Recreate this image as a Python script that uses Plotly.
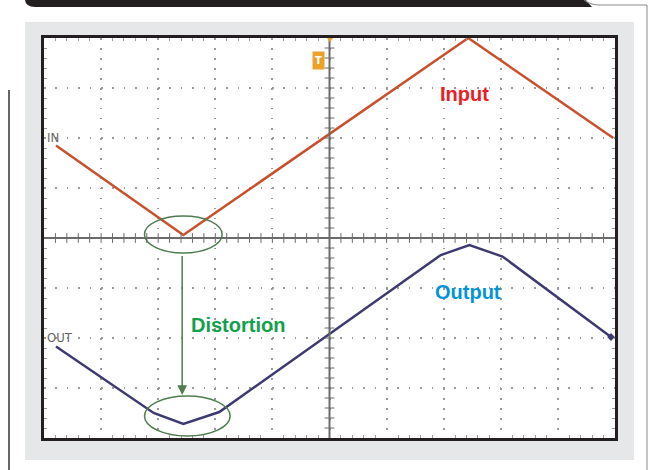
import plotly.graph_objects as go

# oscilloscope trace vertices, in graticule divisions (10 x 8, centre = 0)
in_x = [0.21, 2.44, 7.43, 9.97]
in_y = [1.85, 0.06, 4.00, 2.00]

out_x = [0.21, 1.92, 2.44, 3.07, 6.95, 7.45, 8.03, 9.93]
out_y = [-2.17, -3.50, -3.72, -3.48, -0.34, -0.14, -0.37, -1.98]

labels = ["Input", "Output", "Distortion"]
label_colors = ["#ed1c24", "#0095da", "#12a04c"]

W, H = 650, 470
L, R, T, B = 44, 35, 38, 32
PW, PH = W - L - R, H - T - B


def px_x(px):
    return (px - L) / PW


def px_y(py):
    return (H - B - py) / PH


GRID = "#9a9a9a"
AXIS = "#6b6b6b"
SMALL = "DejaVu Sans Condensed, DejaVu Sans, sans-serif"

fig = go.Figure()

fig.add_trace(go.Scatter(x=in_x, y=in_y, mode="lines",
                         line=dict(color="#c9502c", width=2.5),
                         showlegend=False, hoverinfo="skip"))
fig.add_trace(go.Scatter(x=out_x, y=out_y, mode="lines",
                         line=dict(color="#3d3a72", width=2.5),
                         showlegend=False, hoverinfo="skip"))
fig.add_trace(go.Scatter(x=[out_x[-1]], y=[out_y[-1]], mode="markers",
                         marker=dict(symbol="diamond", size=6, color="#3d3a72"),
                         showlegend=False, hoverinfo="skip"))

# centre graticule tick marks
hticks = [i * 0.2 for i in range(1, 50)]
vticks = [-4 + i * 0.2 for i in range(1, 40)]
fig.add_trace(go.Scatter(x=hticks, y=[0] * len(hticks), mode="markers",
                         marker=dict(symbol="line-ns", size=7,
                                     line=dict(color=AXIS, width=1)),
                         showlegend=False, hoverinfo="skip"))
fig.add_trace(go.Scatter(x=[5] * len(vticks), y=vticks, mode="markers",
                         marker=dict(symbol="line-ew", size=7,
                                     line=dict(color=AXIS, width=1)),
                         showlegend=False, hoverinfo="skip"))

shapes = [
    # grey panel and white screen
    dict(type="rect", xref="paper", yref="paper", layer="below",
         x0=px_x(25), x1=px_x(634), y0=px_y(460), y1=px_y(22),
         fillcolor="#e6e7e8", line=dict(width=0)),
    dict(type="rect", xref="paper", yref="paper", layer="below",
         x0=0, x1=1, y0=0, y1=1, fillcolor="white", line=dict(width=0)),
    # top dark bar with rounded corner
    dict(type="path", xref="paper", yref="paper",
         path=(f"M{px_x(25)},{px_y(-2)} L{px_x(25)},{px_y(-1)} "
               f"Q{px_x(25)},{px_y(7)} {px_x(35)},{px_y(7)} "
               f"L{px_x(592)},{px_y(7)} L{px_x(584)},{px_y(-2)} Z"),
         fillcolor="#231f20", line=dict(width=0)),
    dict(type="path", xref="paper", yref="paper",
         path=(f"M{px_x(584)},{px_y(0)} Q{px_x(590)},{px_y(5)} {px_x(600)},{px_y(5)} "
               f"L{px_x(647)},{px_y(5)} L{px_x(647)},{px_y(472)}"),
         line=dict(color="#8a8a8a", width=1)),
    dict(type="line", xref="paper", yref="paper",
         x0=px_x(9), x1=px_x(9), y0=px_y(90), y1=px_y(472),
         line=dict(color="#333333", width=1.5)),
    # centre axes
    dict(type="line", x0=0, x1=10, y0=0, y1=0, line=dict(color=AXIS, width=2)),
    dict(type="line", x0=5, x1=5, y0=-4, y1=4, line=dict(color=AXIS, width=2)),
    # distortion rings
    dict(type="circle", x0=1.76, x1=3.12, y0=-0.30, y1=0.44,
         line=dict(color="#4f7d4f", width=1.5)),
    dict(type="circle", x0=1.76, x1=3.26, y0=-3.96, y1=-3.16,
         line=dict(color="#4f7d4f", width=1.5)),
    # trigger pointer at top of centre axis
    dict(type="path", xref="paper", yref="paper",
         path=(f"M{px_x(327)},{px_y(38)} L{px_x(333)},{px_y(38)} "
               f"L{px_x(330)},{px_y(42)} Z"),
         fillcolor="#eaa22a", line=dict(width=0)),
]

annotations = [
    dict(x=2.42, y=-3.14, ax=2.42, ay=-0.33, xref="x", yref="y",
         axref="x", ayref="y", text="", showarrow=True,
         arrowhead=2, arrowsize=1.3, arrowwidth=1.5, arrowcolor="#4f7d4f"),
    dict(x=7.37, y=2.89, text=labels[0]),
    dict(x=7.43, y=-1.07, text=labels[1]),
    dict(x=3.39, y=-1.73, text=labels[2]),
    dict(x=0, y=2.02, text="IN", xanchor="left", xshift=1,
         font=dict(family=SMALL, size=13, color="#666666")),
    dict(x=0, y=-1.98, text="OUT", xanchor="left", xshift=1,
         font=dict(family=SMALL, size=13, color="#666666")),
    dict(x=px_x(318.5), y=px_y(51), xref="paper", yref="paper", text="<b>T</b>",
         bgcolor="#eaa22a", borderpad=2,
         font=dict(family=SMALL, size=11, color="white")),
]
for a, c in zip(annotations[1:4], label_colors):
    a["showarrow"] = False
    a["font"] = dict(family="Liberation Sans", size=20, color=c)
    a["text"] = f"<b>{a['text']}</b>"
for a in annotations[4:]:
    a["showarrow"] = False

axis_common = dict(showticklabels=False, zeroline=False, showline=True,
                   mirror="allticks", linecolor="#231f20", linewidth=3,
                   gridcolor=GRID, gridwidth=1.5, dtick=1, ticks="",
                   fixedrange=True)

fig.update_layout(
    width=W, height=H,
    margin=dict(l=L, r=R, t=T, b=B),
    paper_bgcolor="white", plot_bgcolor="white",
    xaxis=dict(range=[0, 10], griddash="1.5px,8.5px",
               minor=dict(dtick=0.2, ticks="inside", ticklen=3,
                          tickcolor=GRID, showgrid=False),
               **axis_common),
    yaxis=dict(range=[-4, 4], griddash="1.5px,9.9px",
               minor=dict(dtick=0.2, ticks="inside", ticklen=3,
                          tickcolor=GRID, showgrid=False),
               **axis_common),
    shapes=shapes,
    annotations=annotations,
)

fig.write_html("out.html", config={"displayModeBar": False},
               post_script="document.body.style.margin='0';")
